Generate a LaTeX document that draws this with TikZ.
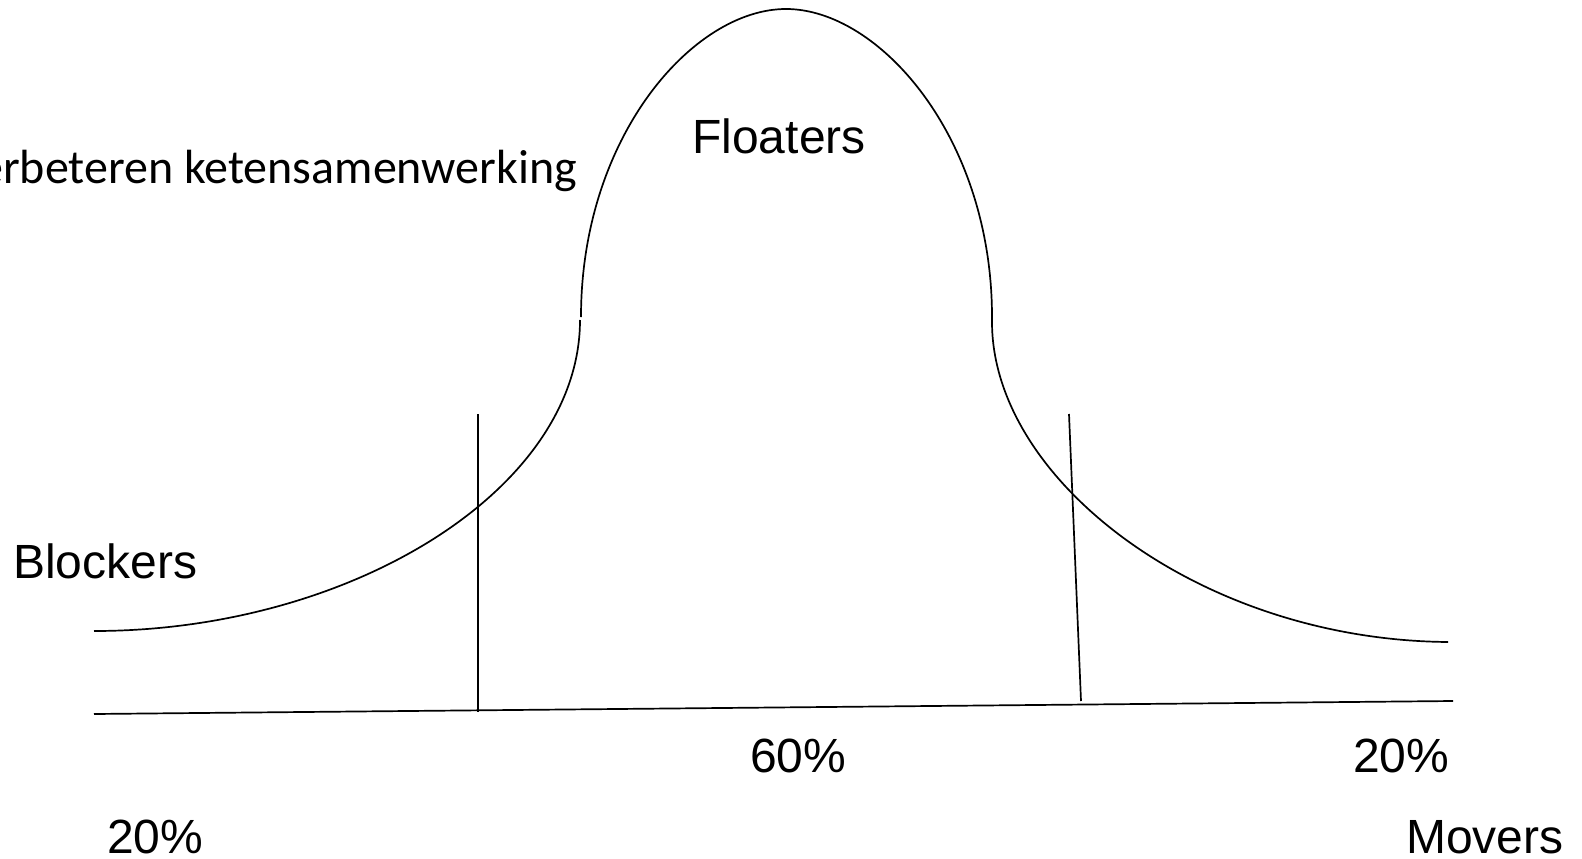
\documentclass[tikz,border=0pt]{standalone}
\usepackage{fontspec}
\setmainfont{Liberation Sans}
\newfontfamily\calfont{Carlito}
\begin{document}
\begin{tikzpicture}[x=1pt,y=-1pt,
  curve/.style={line width=1.7pt,black},
  lbl/.style={inner sep=0pt,font=\fontsize{48}{50}\selectfont}]
\useasboundingbox (0,0) rectangle (1582,859);
% curve
\coordinate (L0) at (94,631);
\coordinate (L1) at (580,320);
\coordinate (T0) at (581,317);
\coordinate (P) at (786,9);
\coordinate (T1) at (992,317);
\coordinate (R0) at (992,322);
\coordinate (R1) at (1448,642);
\draw[curve] (L0) .. controls (350,631) and (580,490) .. (L1);
\draw[curve] (T0) .. controls (581,137) and (693,9) .. (P)
  .. controls (879,9) and (992,137) .. (T1) -- (R0);
\draw[curve] (R0) .. controls (992,480) and (1200,640) .. (R1);
% axis and dividers
\coordinate (A0) at (94,714);
\coordinate (A1) at (1453,701);
\coordinate (V1a) at (478,414);
\coordinate (V1b) at (478,712);
\coordinate (V2a) at (1069,414);
\coordinate (V2b) at (1081,701);
\draw[curve] (A0) -- (A1);
\draw[curve] (V1a) -- (V1b);
\draw[curve] (V2a) -- (V2b);
% labels
\node[lbl,anchor=base] (floaters) at (779,153) {Floaters};
\node[lbl,anchor=base west] (blockers) at (13,578) {Blockers};
\node[lbl,anchor=base west] (p60) at (750,772) {60\%};
\node[lbl,anchor=base west] (p20r) at (1353,772) {20\%};
\node[lbl,anchor=base west] (p20l) at (107,853) {20\%};
\node[lbl,anchor=base west] (movers) at (1406,853) {Movers};
\node[inner sep=0pt,anchor=base east,font=\calfont\fontsize{48}{50}\selectfont] (title) at (577,183) {verbeteren ketensamenwerking};
\end{tikzpicture}
\end{document}
